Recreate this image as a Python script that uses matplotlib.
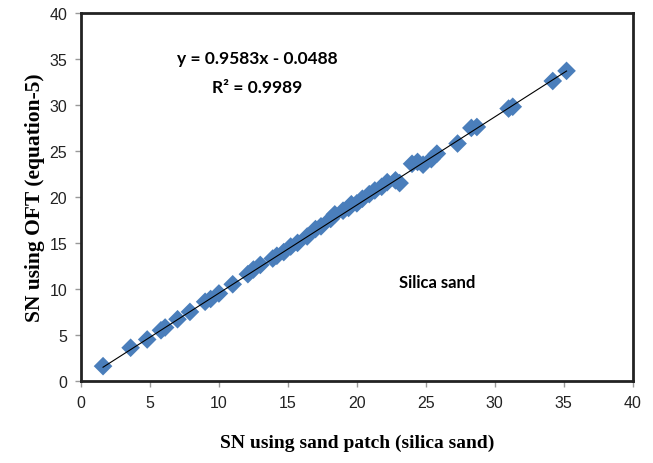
import numpy as np
import matplotlib.pyplot as plt

# SN from sand patch (x) vs SN from OFT equation-5 (y)
sn_sand_patch = [1.6, 3.6, 4.8, 5.8, 6.1, 7.0, 7.9, 9.0, 9.4, 10.0, 11.0, 12.1, 12.5,
                 13.0, 13.9, 14.2, 14.7, 15.2, 15.7, 16.4, 17.0, 17.4, 18.1, 18.4,
                 19.0, 19.4, 19.6, 20.0, 20.4, 20.9, 21.3, 21.8, 22.2, 22.8, 23.1,
                 24.0, 24.4, 24.8, 25.4, 25.8, 27.3, 28.3, 28.7, 31.0, 31.3, 34.2, 35.2]
sn_oft = [1.6, 3.6, 4.5, 5.5, 5.8, 6.7, 7.5, 8.6, 8.9, 9.5, 10.5, 11.6, 12.1,
          12.6, 13.3, 13.6, 14.0, 14.6, 15.0, 15.7, 16.5, 16.8, 17.6, 18.1,
          18.5, 18.8, 19.2, 19.3, 19.8, 20.3, 20.7, 21.1, 21.6, 21.8, 21.5,
          23.6, 23.8, 23.5, 24.1, 24.7, 25.8, 27.5, 27.6, 29.6, 29.8, 32.6, 33.7]

slope = 0.9583
intercept = -0.0488
r2 = 0.9989

x = np.array(sn_sand_patch)
y = np.array(sn_oft)

fig = plt.figure(figsize=(6.53, 4.64), dpi=100)
ax = fig.add_axes([0.124, 0.177, 0.845, 0.793])

ax.scatter(x, y, marker='D', s=90, color='#4a7ebb', edgecolors='none', zorder=2)
xl = np.array([x.min(), x.max()])
ax.plot(xl, slope * xl + intercept, color='black', lw=0.8, zorder=3)

ax.set_xlim(0, 40)
ax.set_ylim(0, 40)
ax.set_xticks(range(0, 41, 5))
ax.set_yticks(range(0, 41, 5))
for s in ax.spines.values():
    s.set_linewidth(2)
    s.set_color('#222222')
ax.tick_params(direction='out', length=4, width=1, color='#999999',
               labelsize=11.5, labelcolor='#222222', pad=6)
for lab in ax.get_xticklabels() + ax.get_yticklabels():
    lab.set_family(['Liberation Sans Narrow', 'Liberation Sans'])

ax.set_xlabel('SN using sand patch (silica sand)', family='Liberation Serif',
              fontweight='bold', fontsize=14, labelpad=17)
ax.set_ylabel('SN using OFT (equation-5)', family='Liberation Serif',
              fontweight='bold', fontsize=15.5, labelpad=3)

ax.text(12.8, 35.1, f'y = {slope}x - {abs(intercept)}', family='Lato', fontweight='bold',
        fontsize=12.5, ha='center', va='center')
ax.text(12.8, 31.9, f'R² = {r2}', family='Lato', fontweight='bold',
        fontsize=12.5, ha='center', va='center')
ax.text(25.8, 10.8, 'Silica sand', family='Lato', fontweight='bold',
        fontsize=12, ha='center', va='center')

fig.savefig('out.png', dpi=100)
